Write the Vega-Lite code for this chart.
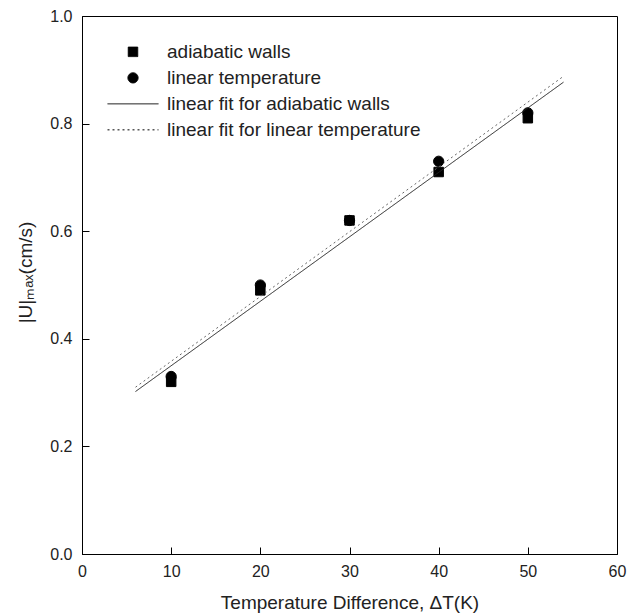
{
  "$schema": "https://vega.github.io/schema/vega-lite/v6.json",
  "width": 535,
  "height": 538,
  "autosize": {"type": "none"},
  "padding": {"left": 82, "top": 16, "right": 21, "bottom": 62},
  "background": "white",
  "config": {
    "font": "Liberation Sans",
    "view": {"stroke": "black", "strokeWidth": 1},
    "axis": {
      "grid": false,
      "domainColor": "black",
      "domainWidth": 1,
      "tickColor": "black",
      "tickWidth": 1,
      "labelColor": "#222",
      "titleColor": "#222",
      "labelFontSize": 16,
      "titleFontSize": 19,
      "titleFontWeight": "normal",
      "labelFont": "Liberation Sans",
      "titleFont": "Liberation Sans"
    }
  },
  "data": {
    "values": [
      {"series": "adiabatic walls", "kind": "point", "x": 10, "y": 0.32},
      {"series": "adiabatic walls", "kind": "point", "x": 20, "y": 0.49},
      {"series": "adiabatic walls", "kind": "point", "x": 30, "y": 0.62},
      {"series": "adiabatic walls", "kind": "point", "x": 40, "y": 0.71},
      {"series": "adiabatic walls", "kind": "point", "x": 50, "y": 0.81},
      {"series": "linear temperature", "kind": "point", "x": 10, "y": 0.33},
      {"series": "linear temperature", "kind": "point", "x": 20, "y": 0.5},
      {"series": "linear temperature", "kind": "point", "x": 30, "y": 0.62},
      {"series": "linear temperature", "kind": "point", "x": 40, "y": 0.73},
      {"series": "linear temperature", "kind": "point", "x": 50, "y": 0.82},
      {"series": "linear fit for adiabatic walls", "kind": "fit", "x": 6, "y": 0.302},
      {"series": "linear fit for adiabatic walls", "kind": "fit", "x": 54, "y": 0.877},
      {"series": "linear fit for linear temperature", "kind": "fit", "x": 6, "y": 0.31},
      {"series": "linear fit for linear temperature", "kind": "fit", "x": 54, "y": 0.888}
    ]
  },
  "layer": [
    {
      "transform": [{"filter": "datum.kind === 'point'"}],
      "mark": {"type": "point", "filled": true, "opacity": 1, "fill": "black", "stroke": "black", "strokeWidth": 1},
      "encoding": {
        "x": {
          "field": "x",
          "type": "quantitative",
          "scale": {"domain": [0, 60]},
          "axis": {
            "title": "Temperature Difference, ΔT(K)",
            "values": [0, 10, 20, 30, 40, 50, 60],
            "tickSize": -7,
            "labelPadding": 16,
            "labelFlush": false,
            "labelOverlap": false,
            "titleY": 54,
            "titleBaseline": "alphabetic"
          }
        },
        "y": {
          "field": "y",
          "type": "quantitative",
          "scale": {"domain": [0, 1]},
          "axis": {
            "title": "|U|ₘₐₓ(cm/s)",
            "values": [0, 0.2, 0.4, 0.6, 0.8, 1.0],
            "format": ".1f",
            "tickSize": -7,
            "labelPadding": 17,
            "labelFlush": false,
            "labelOverlap": false,
            "titleX": -57,
            "titleY": 256,
            "titleAngle": -90,
            "titleAlign": "center",
            "titleBaseline": "middle"
          }
        },
        "shape": {
          "field": "series",
          "type": "nominal",
          "scale": {
            "domain": ["adiabatic walls", "linear temperature", "linear fit for adiabatic walls", "linear fit for linear temperature"],
            "range": ["square", "circle", "stroke", "stroke"]
          },
          "legend": {
            "title": null,
            "orient": "none",
            "legendX": 25,
            "legendY": 23,
            "padding": 0,
            "rowPadding": 0,
            "clipHeight": 25.7,
            "labelFontSize": 19,
            "labelColor": "#222",
            "labelFont": "Liberation Sans",
            "labelOffset": 8,
            "labelLimit": 0,
            "symbolStrokeWidth": 1,
            "symbolStrokeColor": "black",
            "symbolFillColor": "black"
          }
        },
        "size": {
          "field": "series",
          "type": "nominal",
          "scale": {
            "type": "ordinal",
            "domain": ["adiabatic walls", "linear temperature", "linear fit for adiabatic walls", "linear fit for linear temperature"],
            "range": [90, 105, 2601, 2601]
          }
        }
      }
    },
    {
      "transform": [{"filter": "datum.series === 'linear fit for adiabatic walls'"}],
      "mark": {"type": "line", "color": "#222", "strokeWidth": 1},
      "encoding": {
        "x": {"field": "x", "type": "quantitative", "scale": {"domain": [0, 60]}},
        "y": {"field": "y", "type": "quantitative", "scale": {"domain": [0, 1]}},
        "strokeDash": {
          "field": "series",
          "type": "nominal",
          "scale": {
            "domain": ["adiabatic walls", "linear temperature", "linear fit for adiabatic walls", "linear fit for linear temperature"],
            "range": [[1, 0], [1, 0], [1, 0], [2, 3]]
          }
        }
      }
    },
    {
      "transform": [{"filter": "datum.series === 'linear fit for linear temperature'"}],
      "mark": {"type": "line", "color": "#666", "strokeWidth": 1},
      "encoding": {
        "x": {"field": "x", "type": "quantitative", "scale": {"domain": [0, 60]}},
        "y": {"field": "y", "type": "quantitative", "scale": {"domain": [0, 1]}},
        "strokeDash": {
          "field": "series",
          "type": "nominal",
          "scale": {
            "domain": ["adiabatic walls", "linear temperature", "linear fit for adiabatic walls", "linear fit for linear temperature"],
            "range": [[1, 0], [1, 0], [1, 0], [2, 3]]
          }
        }
      }
    }
  ]
}
